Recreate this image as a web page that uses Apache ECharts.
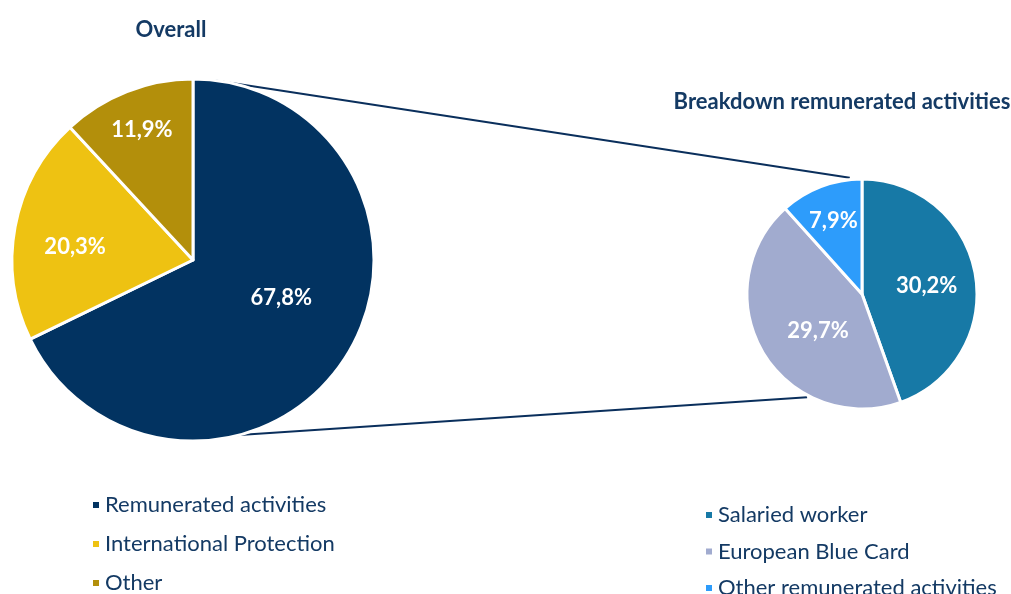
<!DOCTYPE html>
<html>
<head>
<meta charset="utf-8">
<script src="https://cdn.jsdelivr.net/npm/echarts@6/dist/echarts.min.js"></script>
<style>
html,body{margin:0;padding:0;background:#fff;}
#c{width:1011px;height:594px;}
</style>
</head>
<body>
<div id="c"></div>
<script>
// ---- data ----
const overallNames = ['Remunerated activities', 'International Protection', 'Other'];
const overallValues = [67.8, 20.3, 11.9];
const breakdownNames = ['Salaried worker', 'European Blue Card', 'Other remunerated activities'];
const breakdownValues = [30.2, 29.7, 7.9];

// ---- styles / layout ----
const overallColors = ['#023361', '#EEC212', '#B38F0B'];
const breakdownColors = ['#1779A6', '#A1ABCF', '#2D9CFB'];
const overallLabelShift = [[9, -12], [-26, 4], [-17, -43]];
const breakdownLabelShift = [[5, 2], [8, 6], [-7, -17]];
const textNavy = '#143A64';
const FONT = 'Lato';
const L = {cx: 193, cy: 260, r: 181};
const R = {cx: 862, cy: 294, r: 115};

const fmt = v => v.toFixed(1).replace('.', ',') + '%';

function pt(c, angDeg, rr) {
  const a = angDeg * Math.PI / 180;
  return [c.cx + Math.sin(a) * rr, c.cy - Math.cos(a) * rr];
}
const lUp = pt(L, 6, L.r), rUp = pt(R, -6, R.r + 2);
const lDn = pt(L, 173.5, L.r - 3), rDn = pt(R, 208, R.r + 2);

const chart = echarts.init(document.getElementById('c'), null, {renderer: 'canvas'});
chart.setOption({
  backgroundColor: '#fff',
  animation: false,
  title: [
    {text: 'Overall', left: 166, top: 14, textAlign: 'center',
     textStyle: {fontFamily: FONT, fontWeight: 'bold', fontSize: 22, color: textNavy}},
    {text: 'Breakdown remunerated activities', left: 837, top: 86, textAlign: 'center',
     textStyle: {fontFamily: FONT, fontWeight: 'bold', fontSize: 22, color: textNavy}}
  ],
  legend: [
    {data: overallNames, orient: 'vertical', left: 91, top: 494, height: 200, padding: 0,
     itemWidth: 8, itemHeight: 8, itemGap: 17, icon: 'rect', selectedMode: false,
     textStyle: {fontFamily: FONT, fontSize: 22, lineHeight: 22, color: textNavy}},
    {data: breakdownNames, orient: 'vertical', left: 704, top: 504, height: 200, padding: 0,
     itemWidth: 8, itemHeight: 8, itemGap: 14.5, icon: 'rect', selectedMode: false,
     textStyle: {fontFamily: FONT, fontSize: 22, lineHeight: 22, color: textNavy}}
  ],
  graphic: [
    {type: 'line', z: -1, shape: {x1: lUp[0], y1: lUp[1], x2: rUp[0], y2: rUp[1]},
     style: {stroke: '#0A2F5C', lineWidth: 2}},
    {type: 'line', z: -1, shape: {x1: lDn[0], y1: lDn[1], x2: rDn[0], y2: rDn[1]},
     style: {stroke: '#0A2F5C', lineWidth: 2}}
  ],
  series: [
    {
      type: 'pie', name: 'Overall', center: [L.cx, L.cy], radius: [0, L.r],
      startAngle: 90, clockwise: true, silent: true,
      data: overallNames.map((n, i) => ({name: n, value: overallValues[i], itemStyle: {color: overallColors[i]}})),
      itemStyle: {borderColor: '#fff', borderWidth: 3},
      label: {show: true, position: 'inside', formatter: p => fmt(p.value),
        color: '#fff', fontFamily: FONT, fontWeight: 'bold', fontSize: 22},
      labelLine: {show: false},
      labelLayout: p => ({dx: overallLabelShift[p.dataIndex][0], dy: overallLabelShift[p.dataIndex][1]})
    },
    {
      type: 'pie', name: 'Breakdown', center: [R.cx, R.cy], radius: [0, R.r],
      startAngle: 90, clockwise: true, silent: true,
      data: breakdownNames.map((n, i) => ({name: n, value: breakdownValues[i], itemStyle: {color: breakdownColors[i]}})),
      itemStyle: {borderColor: '#fff', borderWidth: 3},
      label: {show: true, position: 'inside', formatter: p => fmt(p.value),
        color: '#fff', fontFamily: FONT, fontWeight: 'bold', fontSize: 22},
      labelLine: {show: false},
      labelLayout: p => ({dx: breakdownLabelShift[p.dataIndex][0], dy: breakdownLabelShift[p.dataIndex][1]})
    }
  ]
});
</script>
</body>
</html>
